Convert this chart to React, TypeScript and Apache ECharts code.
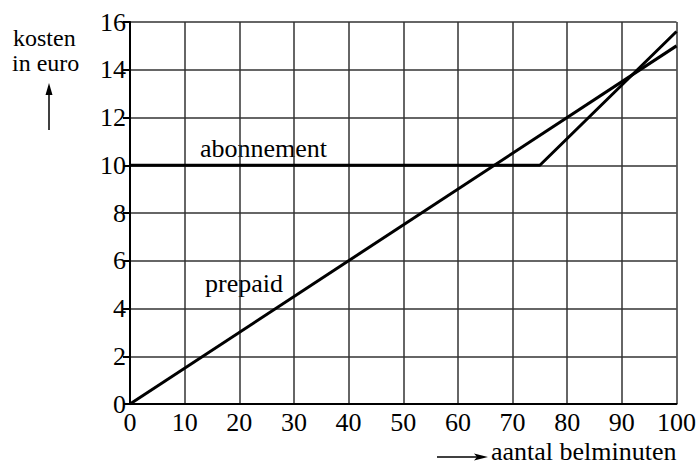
import React, { useEffect, useRef } from "react";
import * as echarts from "echarts";

const xTicks = [0, 10, 20, 30, 40, 50, 60, 70, 80, 90, 100];
const yTicks = [0, 2, 4, 6, 8, 10, 12, 14, 16];
const prepaidX = [0, 100];
const prepaidY = [0, 15];
const abonnementX = [0, 75, 100];
const abonnementY = [10, 10, 15.6];

const FONT = "serif";
const SIZE = 26;
const txt = (text: string, x: number, baseline: number, size = SIZE) => ({
  type: "text",
  x,
  y: baseline - size * 0.88,
  style: {
    text,
    fontFamily: FONT,
    fontSize: size,
    fill: "#000",
  },
});

export default function App() {
  const ref = useRef<HTMLDivElement>(null);
  useEffect(() => {
    if (!ref.current) return;
    const chart = echarts.init(ref.current, undefined, { renderer: "svg" });
    const label = {
      color: "#000",
      fontFamily: FONT,
      fontSize: SIZE,
    };
    chart.setOption({
      animation: false,
      textStyle: { fontFamily: FONT },
      grid: { left: 130, right: 22, top: 22, bottom: 64 },
      xAxis: {
        type: "value",
        min: xTicks[0],
        max: xTicks[xTicks.length - 1],
        interval: 10,
        axisLine: { show: true, lineStyle: { color: "#000", width: 2 } },
        axisTick: { show: false },
        splitLine: { show: true, lineStyle: { color: "#333", width: 1.5 } },
        axisLabel: { ...label, margin: 5 },
      },
      yAxis: {
        type: "value",
        min: yTicks[0],
        max: yTicks[yTicks.length - 1],
        interval: 2,
        axisLine: { show: true, lineStyle: { color: "#000", width: 2 } },
        axisTick: { show: true, length: 7, lineStyle: { color: "#000", width: 2 } },
        splitLine: { show: true, lineStyle: { color: "#333", width: 1.5 } },
        axisLabel: { ...label, margin: 4 },
      },
      series: [
        {
          name: "prepaid",
          type: "line",
          data: prepaidX.map((x, i) => [x, prepaidY[i]]),
          symbol: "none",
          lineStyle: { color: "#000", width: 3 },
        },
        {
          name: "abonnement",
          type: "line",
          data: abonnementX.map((x, i) => [x, abonnementY[i]]),
          symbol: "none",
          lineStyle: { color: "#000", width: 3 },
        },
      ],
      graphic: [
        txt("kosten", 13, 47, 24),
        txt("in euro", 12, 72, 24),
        { type: "line", shape: { x1: 49, y1: 130, x2: 49, y2: 92 }, style: { stroke: "#000", lineWidth: 1.5 } },
        { type: "polygon", shape: { points: [[49, 83], [45.5, 95], [52.5, 95]] }, style: { fill: "#000" } },
        { type: "line", shape: { x1: 437, y1: 457, x2: 478, y2: 457 }, style: { stroke: "#000", lineWidth: 1.5 } },
        { type: "polygon", shape: { points: [[488, 457], [474, 453.5], [477, 457], [474, 460.5]] }, style: { fill: "#000" } },
        txt("aantal belminuten", 491, 461),
        txt("abonnement", 200, 158),
        txt("prepaid", 205, 293),
      ],
    });
    return () => chart.dispose();
  }, []);
  return (
    <div
      ref={ref}
      style={{ width: 699, height: 468, position: "absolute", left: 0, top: 0, background: "#fff" }}
    />
  );
}
